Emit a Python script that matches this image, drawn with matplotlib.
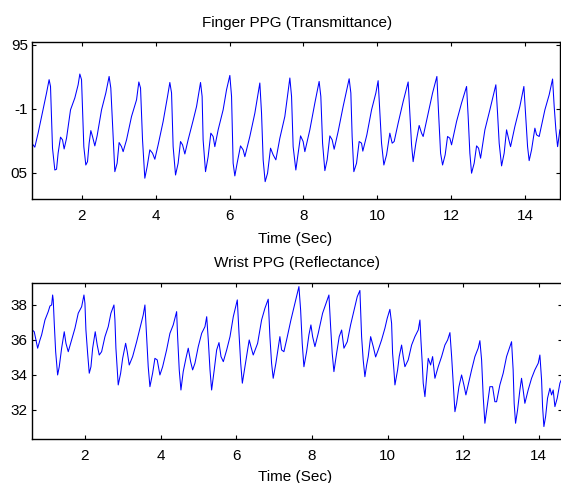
import matplotlib
matplotlib.use("Agg")
import matplotlib.pyplot as plt

plt.rcParams['font.family'] = ['Liberation Sans', 'DejaVu Sans']

# finger PPG (transmittance)
finger_t = [0.646, 0.727, 0.816, 0.908, 0.998, 1.044, 1.114, 1.152, 1.179, 1.206,
            1.269, 1.315, 1.358, 1.423, 1.477, 1.521, 1.586, 1.694, 1.810, 1.900,
            1.946, 1.992, 2.019, 2.054, 2.108, 2.154, 2.198, 2.244, 2.290, 2.352,
            2.414, 2.534, 2.650, 2.739, 2.785, 2.832, 2.894, 2.956, 3.010, 3.075,
            3.119, 3.211, 3.346, 3.482, 3.544, 3.590, 3.644, 3.706, 3.769, 3.842,
            3.915, 3.977, 4.067, 4.202, 4.321, 4.384, 4.430, 4.473, 4.538, 4.608,
            4.673, 4.728, 4.790, 4.879, 5.015, 5.107, 5.215, 5.258, 5.285, 5.350,
            5.421, 5.494, 5.556, 5.602, 5.692, 5.827, 5.919, 6.009, 6.055, 6.098,
            6.144, 6.206, 6.298, 6.369, 6.415, 6.550, 6.686, 6.821, 6.867, 6.911,
            6.965, 7.030, 7.111, 7.182, 7.255, 7.363, 7.498, 7.634, 7.680, 7.723,
            7.796, 7.859, 7.924, 7.994, 8.040, 8.175, 8.311, 8.427, 8.473, 8.520,
            8.582, 8.644, 8.717, 8.780, 8.834, 8.942, 9.077, 9.240, 9.286, 9.321,
            9.367, 9.440, 9.511, 9.576, 9.610, 9.719, 9.847, 9.963, 10.025, 10.072,
            10.117, 10.180, 10.253, 10.342, 10.405, 10.459, 10.567, 10.703, 10.838, 10.884,
            10.930, 10.973, 11.047, 11.136, 11.201, 11.244, 11.380, 11.499, 11.616, 11.662,
            11.716, 11.770, 11.840, 11.905, 11.967, 12.013, 12.149, 12.284, 12.420, 12.463,
            12.509, 12.555, 12.626, 12.691, 12.745, 12.799, 12.916, 13.051, 13.213, 13.259,
            13.303, 13.368, 13.438, 13.503, 13.565, 13.611, 13.728, 13.863, 13.972, 14.026,
            14.072, 14.115, 14.180, 14.270, 14.316, 14.386, 14.541, 14.657, 14.749, 14.793,
            14.839, 14.885, 14.947]
finger_v = [-1.0268, -1.0299, -1.0190, -1.0065, -0.9943, -0.9877, -0.9773, -0.9826, -1.0073, -1.0307,
            -1.0477, -1.0471, -1.0346, -1.0221, -1.0242, -1.0313, -1.0229, -1.0008, -0.9916, -0.9813,
            -0.9729, -0.9773, -1.0008, -1.0295, -1.0438, -1.0412, -1.0268, -1.0170, -1.0216, -1.0289,
            -1.0211, -1.0008, -0.9877, -0.9748, -0.9838, -1.0112, -1.0490, -1.0424, -1.0263, -1.0295,
            -1.0334, -1.0242, -1.0060, -0.9930, -0.9791, -0.9838, -1.0242, -1.0541, -1.0451, -1.0320,
            -1.0346, -1.0393, -1.0281, -1.0099, -0.9904, -0.9795, -0.9877, -1.0295, -1.0516, -1.0424,
            -1.0255, -1.0281, -1.0352, -1.0242, -1.0090, -0.9982, -0.9795, -0.9904, -1.0242, -1.0490,
            -1.0373, -1.0190, -1.0216, -1.0295, -1.0164, -1.0008, -0.9852, -0.9740, -0.9904, -1.0424,
            -1.0523, -1.0424, -1.0289, -1.0320, -1.0373, -1.0216, -1.0034, -0.9799, -1.0034, -1.0398,
            -1.0568, -1.0502, -1.0307, -1.0359, -1.0398, -1.0229, -1.0060, -0.9760, -0.9904, -1.0295,
            -1.0477, -1.0346, -1.0211, -1.0255, -1.0334, -1.0164, -0.9955, -0.9787, -0.9904, -1.0268,
            -1.0482, -1.0398, -1.0211, -1.0242, -1.0315, -1.0177, -0.9982, -0.9766, -0.9877, -1.0216,
            -1.0490, -1.0424, -1.0255, -1.0268, -1.0330, -1.0203, -1.0008, -0.9877, -0.9781, -1.0034,
            -1.0268, -1.0438, -1.0359, -1.0190, -1.0268, -1.0255, -1.0112, -0.9943, -0.9791, -1.0034,
            -1.0281, -1.0412, -1.0268, -1.0130, -1.0190, -1.0216, -1.0034, -0.9877, -0.9748, -1.0034,
            -1.0346, -1.0438, -1.0359, -1.0216, -1.0229, -1.0281, -1.0099, -0.9955, -0.9826, -1.0060,
            -1.0346, -1.0502, -1.0424, -1.0289, -1.0307, -1.0385, -1.0164, -1.0008, -0.9813, -1.0034,
            -1.0268, -1.0445, -1.0346, -1.0164, -1.0242, -1.0295, -1.0138, -0.9982, -0.9826, -1.0086,
            -1.0295, -1.0404, -1.0320, -1.0151, -1.0203, -1.0216, -1.0008, -0.9891, -0.9768, -0.9982,
            -1.0164, -1.0295, -1.0164]

# wrist PPG (reflectance)
wrist_t = [0.607, 0.660, 0.705, 0.750, 0.811, 0.855, 0.943, 1.030, 1.075, 1.120,
           1.146, 1.162, 1.189, 1.226, 1.278, 1.321, 1.384, 1.453, 1.498, 1.559,
           1.648, 1.736, 1.823, 1.913, 1.974, 2.000, 2.026, 2.071, 2.114, 2.159,
           2.204, 2.272, 2.325, 2.378, 2.441, 2.529, 2.616, 2.687, 2.767, 2.793,
           2.819, 2.880, 2.944, 2.997, 3.076, 3.118, 3.171, 3.261, 3.367, 3.454,
           3.541, 3.586, 3.631, 3.673, 3.718, 3.789, 3.850, 3.911, 3.982, 4.054,
           4.159, 4.247, 4.334, 4.424, 4.450, 4.493, 4.538, 4.598, 4.670, 4.731,
           4.794, 4.847, 4.908, 4.996, 5.086, 5.173, 5.219, 5.261, 5.306, 5.349,
           5.418, 5.482, 5.544, 5.597, 5.658, 5.747, 5.835, 5.922, 5.994, 6.028,
           6.073, 6.118, 6.161, 6.229, 6.300, 6.343, 6.388, 6.449, 6.565, 6.670,
           6.758, 6.845, 6.890, 6.934, 6.977, 7.048, 7.109, 7.154, 7.199, 7.260,
           7.331, 7.445, 7.551, 7.657, 7.702, 7.744, 7.789, 7.860, 7.921, 7.974,
           8.019, 8.080, 8.167, 8.283, 8.389, 8.450, 8.495, 8.537, 8.582, 8.653,
           8.722, 8.786, 8.847, 8.935, 9.023, 9.137, 9.198, 9.269, 9.314, 9.356,
           9.401, 9.447, 9.489, 9.553, 9.622, 9.685, 9.753, 9.842, 9.930, 9.991,
           10.062, 10.107, 10.133, 10.168, 10.195, 10.266, 10.308, 10.371, 10.414, 10.459,
           10.546, 10.636, 10.723, 10.811, 10.856, 10.882, 10.917, 10.943, 10.988, 11.033,
           11.075, 11.138, 11.191, 11.252, 11.339, 11.429, 11.516, 11.588, 11.649, 11.694,
           11.736, 11.781, 11.826, 11.887, 11.957, 12.018, 12.071, 12.132, 12.222, 12.309,
           12.396, 12.441, 12.486, 12.529, 12.573, 12.634, 12.705, 12.776, 12.837, 12.882,
           12.969, 13.057, 13.146, 13.233, 13.278, 13.320, 13.347, 13.384, 13.437, 13.498,
           13.542, 13.585, 13.630, 13.717, 13.807, 13.894, 13.983, 14.027, 14.072, 14.098,
           14.133, 14.178, 14.229, 14.292, 14.336, 14.379, 14.424, 14.485, 14.556, 14.600]
wrist_v = [36.57, 36.47, 36.00, 35.53, 36.00, 36.29, 37.14, 37.62, 37.94, 38.00,
           38.57, 38.29, 36.95, 35.33, 34.00, 34.47, 35.53, 36.47, 35.81, 35.33,
           36.00, 36.67, 37.53, 37.90, 38.57, 38.10, 36.57, 35.24, 34.10, 34.47,
           35.53, 36.47, 35.71, 35.14, 35.33, 36.19, 36.76, 37.53, 38.00, 37.14,
           35.53, 33.43, 34.10, 34.95, 35.81, 35.33, 34.57, 35.05, 35.90, 36.67,
           37.43, 38.00, 36.19, 34.47, 33.33, 34.10, 34.95, 34.86, 34.00, 34.47,
           35.43, 36.38, 36.86, 37.62, 36.19, 34.29, 33.14, 34.19, 34.95, 35.53,
           34.76, 34.29, 34.67, 35.62, 36.38, 36.76, 37.33, 36.00, 34.29, 33.14,
           34.29, 35.43, 35.85, 35.05, 34.76, 35.43, 36.19, 37.33, 38.00, 38.29,
           36.38, 34.67, 33.53, 34.47, 35.43, 36.00, 35.62, 35.14, 35.81, 37.14,
           37.81, 38.33, 36.19, 34.67, 33.81, 34.67, 35.53, 36.19, 35.43, 35.33,
           36.00, 37.14, 38.10, 39.05, 37.71, 35.81, 34.47, 35.33, 36.29, 36.86,
           36.19, 35.62, 36.38, 37.53, 38.19, 38.57, 36.76, 35.24, 34.19, 35.24,
           36.19, 36.57, 35.53, 35.90, 36.86, 37.90, 38.47, 38.83, 36.19, 34.86,
           33.90, 34.57, 35.05, 36.19, 35.62, 35.03, 35.43, 36.00, 36.67, 37.24,
           37.75, 36.95, 35.24, 34.29, 33.43, 34.29, 35.05, 35.71, 35.05, 34.47,
           34.86, 35.71, 36.19, 36.57, 37.14, 36.00, 34.67, 33.53, 32.76, 33.90,
           34.95, 34.57, 35.05, 33.81, 34.47, 35.05, 35.71, 36.00, 36.42, 35.05,
           33.53, 31.90, 32.38, 33.33, 34.00, 33.43, 32.86, 33.43, 34.29, 35.05,
           35.53, 35.96, 34.86, 32.76, 31.24, 32.19, 33.33, 33.33, 32.47, 32.47,
           33.43, 34.10, 35.05, 35.62, 35.90, 34.29, 32.38, 31.24, 32.00, 33.14,
           33.81, 33.14, 32.38, 33.14, 33.81, 34.29, 34.67, 35.14, 33.71, 32.19,
           31.05, 31.62, 32.67, 33.24, 32.86, 33.14, 32.19, 32.67, 33.53, 33.75]

x_ticks = [2, 4, 6, 8, 10, 12, 14]
finger_yticks = [-1.05, -1.0, -0.95]
finger_ylabels = ['05', '-1', '95']
wrist_yticks = [32, 34, 36, 38]

fig = plt.figure(figsize=(5.61, 4.83), dpi=100)
ax1 = fig.add_axes([0.057, 0.588, 0.9412, 0.3257])
ax2 = fig.add_axes([0.057, 0.0911, 0.9440, 0.3224])

ax1.plot(finger_t, finger_v, color='#0000ff', lw=0.75)
ax2.plot(wrist_t, wrist_v, color='#0000ff', lw=0.75)

ax1.set_xlim(0.65, 14.95)
ax1.set_ylim(-1.0703, -0.9477)
ax1.set_yticks(finger_yticks)
ax1.set_yticklabels(finger_ylabels)

ax2.set_xlim(0.6, 14.6)
ax2.set_ylim(30.34, 39.24)
ax2.set_yticks(wrist_yticks)

for ax in (ax1, ax2):
    ax.set_xticks(x_ticks)
    ax.tick_params(direction='in', length=3, width=0.8, top=True, right=True,
                   labelsize=11)
    ax.tick_params(axis='x', pad=7)
    ax.tick_params(axis='y', pad=3)
    for sp in ax.spines.values():
        sp.set_linewidth(1.0)

fig.text(0.5298, 1 - 27.3 / 483, 'Finger PPG (Transmittance)', ha='center',
         va='baseline', fontsize=11)
fig.text(0.5258, 1 - 242.7 / 483, 'Time (Sec)', ha='center', va='baseline', fontsize=11)
fig.text(0.5289, 1 - 267.0 / 483, 'Wrist PPG (Reflectance)', ha='center',
         va='baseline', fontsize=11)
fig.text(0.5258, 1 - 481.5 / 483, 'Time (Sec)', ha='center', va='baseline', fontsize=11)

fig.savefig('out.png', dpi=100)
